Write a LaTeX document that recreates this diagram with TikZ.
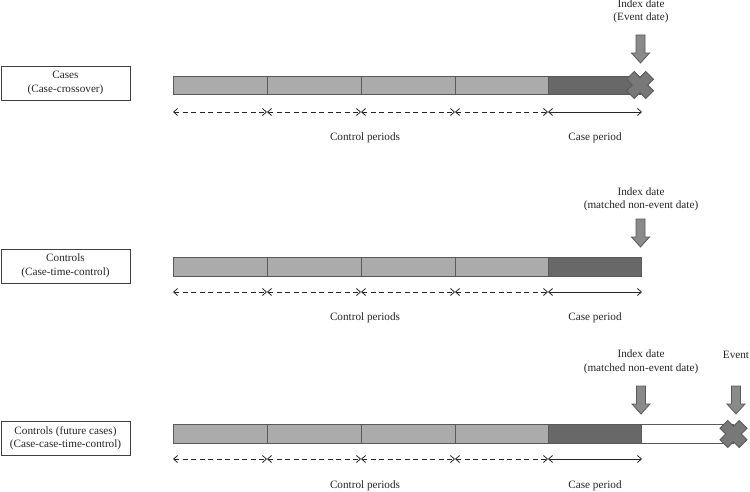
\documentclass[tikz,border=0pt]{standalone}
\usepackage{fontspec}
\setmainfont{Liberation Serif}
\usetikzlibrary{arrows.meta}
\definecolor{lightbar}{HTML}{ABABAB}
\definecolor{darkbar}{HTML}{686868}
\definecolor{edgegray}{HTML}{5A5A5A}
\definecolor{arrowfill}{HTML}{8A8A8A}
\definecolor{xfill}{HTML}{787878}
\tikzset{
  txt/.style={font=\fontsize{11.2}{13.5}\selectfont, align=center, inner sep=0pt, text=black!85},
  rowbox/.style={txt, draw=black!75, line width=0.9pt, fill=white, minimum width=129pt, minimum height=34pt},
  seg/.style={fill=lightbar, draw=edgegray, line width=0.7pt},
  caseseg/.style={fill=darkbar, draw=edgegray, line width=0.7pt},
  emptyseg/.style={fill=white, draw=edgegray, line width=0.7pt},
  barb/.tip={Straight Barb[length=4pt,width=7pt,line width=0.8pt]},
  dimctl/.style={line width=0.8pt, dash pattern=on 5pt off 3.5pt, black!85, barb-barb},
  dimcase/.style={line width=0.8pt, black!85, barb-barb},
  downarrow/.pic={\filldraw[fill=arrowfill, draw=edgegray, line width=0.8pt]
    (-4.5,0) -- (4.5,0) -- (4.5,18) -- (9,18) -- (0,28) -- (-9,18) -- (-4.5,18) -- cycle;},
  bigcross/.pic={\filldraw[fill=xfill, draw=edgegray, line width=0.8pt]
    (0,-7.8) -- (5.7,-13.5) -- (13.5,-5.7) -- (7.8,0) -- (13.5,5.7) -- (5.7,13.5) --
    (0,7.8) -- (-5.7,13.5) -- (-13.5,5.7) -- (-7.8,0) -- (-13.5,-5.7) -- (-5.7,-13.5) -- cycle;}
}
\begin{document}
\begin{tikzpicture}[x=1pt,y=-1pt]
\useasboundingbox (0,0) rectangle (750,492);
\fill[white] (0,0) rectangle (750,492);

% bars, dimension lines and labels for the three rows
\foreach \r/\bt/\bb/\dy/\ly in {1/76/94/112/138, 2/257/276/292/318, 3/424/443/459/486}{
  \ifnum\r=3
    \draw[emptyseg] (641,\bt) rectangle (733,\bb);
  \fi
  \draw[seg] (173,\bt) rectangle (267,\bb);
  \draw[seg] (267,\bt) rectangle (361,\bb);
  \draw[seg] (361,\bt) rectangle (455,\bb);
  \draw[seg] (455,\bt) rectangle (548,\bb);
  \draw[caseseg] (548,\bt) rectangle (641,\bb);
  \coordinate (p\r a) at (173,\dy);
  \coordinate (p\r b) at (267,\dy);
  \coordinate (p\r c) at (361,\dy);
  \coordinate (p\r d) at (455,\dy);
  \coordinate (p\r e) at (548,\dy);
  \coordinate (p\r f) at (642,\dy);
  \draw[dimctl] (p\r a) -- (p\r b);
  \draw[dimctl] (p\r b) -- (p\r c);
  \draw[dimctl] (p\r c) -- (p\r d);
  \draw[dimctl] (p\r d) -- (p\r e);
  \draw[dimcase] (p\r e) -- (p\r f);
  \node[txt] (ctl\r) at (365,\ly) {Control periods};
  \node[txt] (case\r) at (595,\ly) {Case period};
}

% row boxes
\node[rowbox] (box1) at (65.5,83) {Cases\\(Case-crossover)};
\node[rowbox] (box2) at (65.5,266) {Controls\\(Case-time-control)};
\node[rowbox] (box3) at (65.5,438) {Controls (future cases)\\(Case-case-time-control)};

% index date labels and arrows
\node[txt] (idx1) at (641,11.5) {Index date\\(Event date)};
\pic at (640.5,35) {downarrow};
\pic at (640,85) {bigcross};

\node[txt] (idx2) at (641,199.5) {Index date\\(matched non-event date)};
\pic at (640.5,219) {downarrow};

\node[txt] (idx3) at (641,362) {Index date\\(matched non-event date)};
\node[txt] (ev3) at (736,355) {Event};
\pic at (641,386) {downarrow};
\pic at (736,386) {downarrow};
\pic at (733.5,434) {bigcross};
\end{tikzpicture}
\end{document}
